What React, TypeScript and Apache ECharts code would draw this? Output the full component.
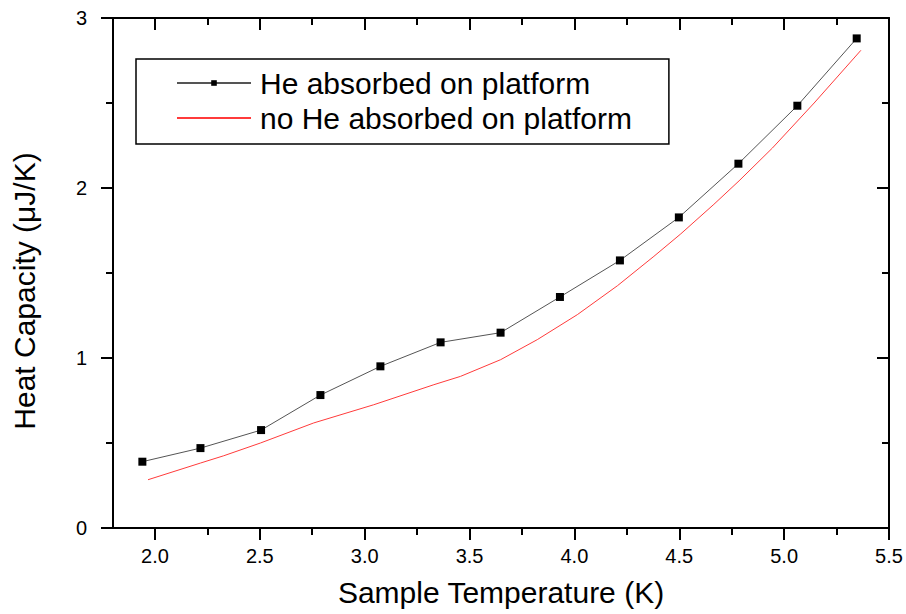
import React, { useEffect, useRef } from "react";
import * as echarts from "echarts";

// Series: He absorbed on platform (markers)
const heTemps = [1.94, 2.217, 2.506, 2.789, 3.075, 3.362, 3.648, 3.931, 4.217, 4.498, 4.782, 5.063, 5.346];
const heCap = [0.39, 0.47, 0.576, 0.782, 0.951, 1.092, 1.149, 1.359, 1.574, 1.827, 2.143, 2.484, 2.88];

// Series: no He absorbed on platform (red line)
const noHeTemps = [1.967, 2.217, 2.328, 2.503, 2.757, 3.043, 3.33, 3.457, 3.648, 3.823, 4.014, 4.205, 4.379, 4.507, 4.665, 4.785, 4.944, 5.143, 5.366];
const noHeCap = [0.284, 0.382, 0.425, 0.5, 0.618, 0.725, 0.843, 0.892, 0.99, 1.108, 1.255, 1.425, 1.598, 1.73, 1.904, 2.042, 2.235, 2.5, 2.81];

const seriesNames = ["He absorbed on platform", "no He absorbed on platform"];
const xMajorTicks = [2.0, 2.5, 3.0, 3.5, 4.0, 4.5, 5.0, 5.5];
const xMinorTicks = [2.25, 2.75, 3.25, 3.75, 4.25, 4.75, 5.25];
const xTitle = "Sample Temperature (K)";
const yTitle = "Heat Capacity (\u03bcJ/K)";

const FONT = "'Liberation Sans', Arial, sans-serif";

export default function App() {
  const ref = useRef<HTMLDivElement>(null);

  useEffect(() => {
    if (!ref.current) return;
    const chart = echarts.init(ref.current, null, { renderer: "svg" });
    const lineStyle = { color: "#000", width: 2 };
    const baseX = { type: "value", min: 1.8, max: 5.5, splitLine: { show: false } };

    chart.setOption({
      animation: false,
      backgroundColor: "#fff",
      grid: { left: 113, right: 17, top: 18, bottom: 86 },
      legend: {
        left: 136,
        top: 59,
        orient: "vertical",
        data: [
          { name: seriesNames[0] },
          { name: seriesNames[1], itemStyle: { opacity: 0 } },
        ],
        padding: [9, 37, 11, 40],
        itemGap: 5,
        itemWidth: 74,
        itemHeight: 7,
        borderColor: "#000",
        borderWidth: 1.5,
        backgroundColor: "#fff",
        selectedMode: false,
        textStyle: { fontSize: 30, fontFamily: FONT, color: "#000", padding: [0, 0, 0, 4] },
      },
      xAxis: [
        {
          ...baseX,
          position: "bottom",
          name: xTitle,
          nameLocation: "middle",
          nameGap: 49,
          nameTextStyle: { fontSize: 30, fontFamily: FONT, color: "#000" },
          axisLine: { show: true, onZero: false, lineStyle },
          axisTick: { show: true, inside: false, length: 12, lineStyle, customValues: xMajorTicks },
          axisLabel: {
            show: true,
            customValues: xMajorTicks,
            formatter: (v: number) => v.toFixed(1),
            fontSize: 20,
            fontFamily: FONT,
            color: "#000",
            margin: 18,
          },
        },
        {
          ...baseX,
          position: "bottom",
          axisLine: { show: false, onZero: false },
          axisTick: { show: true, inside: false, length: 7, lineStyle, customValues: xMinorTicks },
          axisLabel: { show: false },
        },
        {
          ...baseX,
          position: "top",
          axisLine: { show: true, onZero: false, lineStyle },
          axisTick: { show: true, inside: true, length: 12, lineStyle, customValues: xMajorTicks },
          axisLabel: { show: false },
        },
        {
          ...baseX,
          position: "top",
          axisLine: { show: false, onZero: false },
          axisTick: { show: true, inside: true, length: 7, lineStyle, customValues: xMinorTicks },
          axisLabel: { show: false },
        },
      ],
      yAxis: [
        {
          type: "value",
          min: 0,
          max: 3,
          interval: 1,
          position: "left",
          name: yTitle,
          nameLocation: "middle",
          nameGap: 74,
          nameRotate: 90,
          nameTextStyle: { fontSize: 30, fontFamily: FONT, color: "#000", padding: [0, 36, 0, 0] },
          axisLine: { show: true, onZero: false, lineStyle },
          axisTick: { show: true, inside: false, length: 12, lineStyle },
          minorTick: { show: true, splitNumber: 2, length: 7, lineStyle },
          axisLabel: { fontSize: 20, fontFamily: FONT, color: "#000", margin: 26 },
          splitLine: { show: false },
          minorSplitLine: { show: false },
        },
        {
          type: "value",
          min: 0,
          max: 3,
          interval: 1,
          position: "right",
          axisLine: { show: true, onZero: false, lineStyle },
          axisTick: { show: true, inside: true, length: 12, lineStyle },
          minorTick: { show: true, splitNumber: 2, length: 7, lineStyle },
          axisLabel: { show: false },
          splitLine: { show: false },
          minorSplitLine: { show: false },
        },
      ],
      series: [
        {
          name: seriesNames[0],
          type: "line",
          xAxisIndex: 0,
          yAxisIndex: 0,
          data: heTemps.map((t, i) => [t, heCap[i]]),
          symbol: "rect",
          symbolSize: 8,
          itemStyle: { color: "#000" },
          lineStyle: { color: "#555", width: 1 },
          z: 3,
        },
        {
          name: seriesNames[1],
          type: "line",
          xAxisIndex: 0,
          yAxisIndex: 0,
          data: noHeTemps.map((t, i) => [t, noHeCap[i]]),
          symbol: "none",
          showSymbol: false,
          itemStyle: { color: "#ff3b3b" },
          lineStyle: { color: "#ff3b3b", width: 1 },
          z: 2,
        },
      ],
    });
    return () => chart.dispose();
  }, []);

  return (
    <div
      ref={ref}
      style={{ position: "absolute", left: 0, top: 0, width: 906, height: 614, background: "#fff" }}
    />
  );
}
